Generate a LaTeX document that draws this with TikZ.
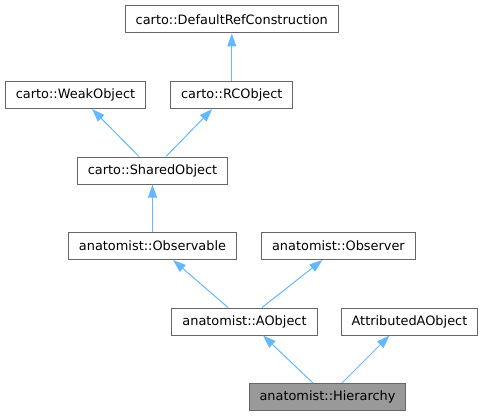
\documentclass[tikz,border=0pt]{standalone}
\usepackage{fontspec}
\setmainfont{DejaVu Sans}
\usetikzlibrary{positioning,arrows.meta}

\definecolor{edgeblue}{HTML}{63B8FF}
\definecolor{boxgray}{HTML}{666666}
\definecolor{hiergray}{HTML}{999999}

\tikzset{
  cls/.style={draw=boxgray, line width=1pt, fill=white, inner xsep=10.5pt,
    minimum height=27pt, font=\fontsize{12.9}{15}\selectfont},
  current/.style={cls, fill=hiergray},
  inherit/.style={draw=edgeblue, line width=1pt,
    -{Triangle[length=13pt,width=9pt,fill=edgeblue]}}
}

\begin{document}
\begin{tikzpicture}[x=1pt, y=1pt, node distance=47.5pt]
  \useasboundingbox (0,0) rectangle (484,-417);

  \node (hier) [current] at (327.5,-397) {anatomist::Hierarchy};
  \node (aobj) [cls, above=of hier, xshift=-83pt] {anatomist::AObject};
  \node (attr) [cls, right=23pt of aobj] {AttributedAObject};
  \node (observable) [cls, above=of aobj, xshift=-92pt] {anatomist::Observable};
  \node (observer) [cls, right=24pt of observable] {anatomist::Observer};
  \node (shared) [cls, above=of observable] {carto::SharedObject};
  \node (weak) [cls, above=of shared, xshift=-77pt] {carto::WeakObject};
  \node (rc) [cls, right=24pt of weak] {carto::RCObject};
  \node (drc) [cls, above=of rc] {carto::DefaultRefConstruction};

  % child -> parent
  \draw[inherit] ([xshift=-14.5pt]hier.north) -- ([xshift=18.5pt]aobj.south);
  \draw[inherit] ([xshift=14.5pt]hier.north) -- ([xshift=-20pt]attr.south);
  \draw[inherit] ([xshift=-16.5pt]aobj.north) -- ([xshift=20.5pt]observable.south);
  \draw[inherit] ([xshift=17.5pt]aobj.north) -- ([xshift=-16pt]observer.south);
  \draw[inherit] (observable.north) -- (shared.south);
  \draw[inherit] ([xshift=-13.5pt]shared.north) -- ([xshift=16.5pt]weak.south);
  \draw[inherit] ([xshift=13.5pt]shared.north) -- ([xshift=-19.5pt]rc.south);
  \draw[inherit] (rc.north) -- (drc.south);
\end{tikzpicture}
\end{document}
